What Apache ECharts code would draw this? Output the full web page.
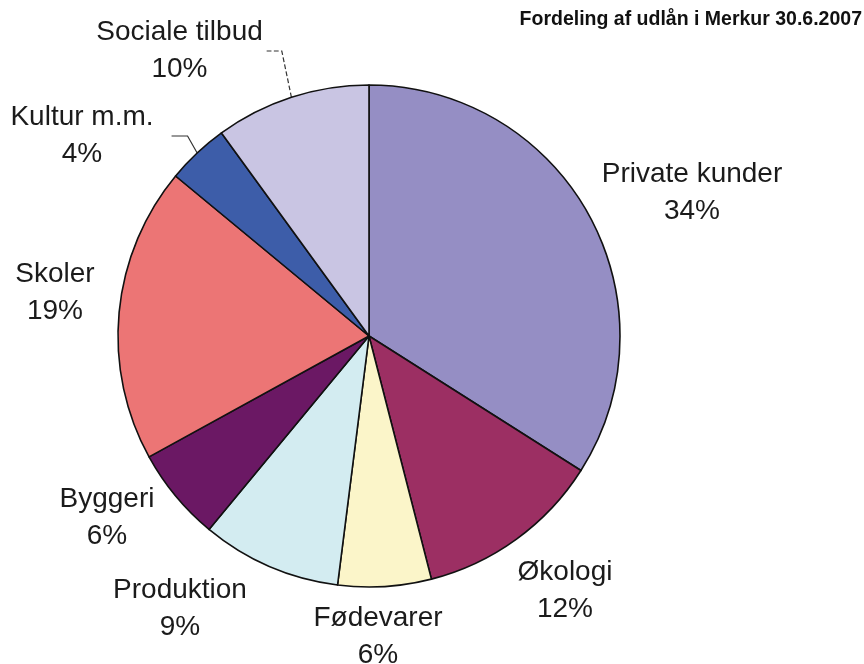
<!DOCTYPE html>
<html><head><meta charset="utf-8">
<script src="https://cdn.jsdelivr.net/npm/echarts@6/dist/echarts.min.js"></script>
<style>html,body{margin:0;padding:0;background:#fff}#c{width:864px;height:664px}</style>
</head><body><div id="c"></div>
<script>
const categories = ['Private kunder','Økologi','Fødevarer','Produktion','Byggeri','Skoler','Kultur m.m.','Sociale tilbud'];
const shares = [34,12,6,9,6,19,4,10];
const sliceColors = ['#958EC4','#9C2F63','#FBF5C9','#D3ECF1','#6B1864','#EC7575','#3D5DA9','#C9C5E3'];
const titleText = 'Fordeling af udlån i Merkur 30.6.2007';
// label centre placement (annotation layout only, px)
const labelCenters = [[692,193],[565,591],[378,637],[180,609],[107,518],[55,293],[91,136],[181,51]];
const leaderStyle = {6:'solid', 7:'dashed'};
const labelGapRight = {6:18, 7:3};

const chart = echarts.init(document.getElementById('c'), null, {renderer:'canvas'});
const data = categories.map((n,i)=>({
  name:n, value:shares[i],
  itemStyle:{color:sliceColors[i]},
  label: labelGapRight[i] ? {padding:[0,labelGapRight[i],0,0]} : {},
  labelLine: leaderStyle[i] ? {show:true, length:10, length2:16, smooth:false,
     lineStyle:{color:'#333', width:1.2, type:leaderStyle[i]}} : {show:false}
}));
chart.setOption({
  animation:false,
  backgroundColor:'#fff',
  title:{text:titleText, right:2, top:10, padding:0,
    textStyle:{fontFamily:'Liberation Sans', fontWeight:'bold', fontSize:19.5, color:'#111'}},
  series:[{
    type:'pie', center:[369,336], radius:251, startAngle:90, clockwise:true,
    avoidLabelOverlap:false,
    itemStyle:{borderColor:'#111', borderWidth:1.6},
    label:{show:true, position:'outside', formatter:'{b}\n{c}%',
      fontFamily:'Liberation Sans', fontSize:28, lineHeight:37, color:'#1b1b1b'},
    labelLine:{show:false},
    labelLayout:function(p){
      const c = labelCenters[p.dataIndex];
      return {x:c[0], y:c[1], align:'center', verticalAlign:'middle'};
    },
    emphasis:{disabled:true},
    data:data
  }]
});
</script></body></html>
